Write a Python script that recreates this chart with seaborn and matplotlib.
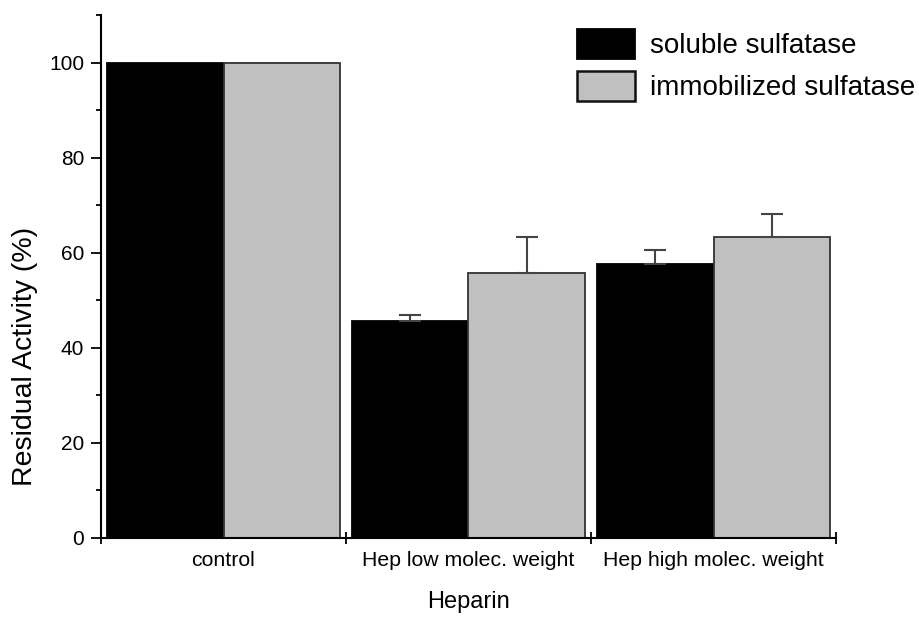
import numpy as np
import pandas as pd
import matplotlib
matplotlib.use("Agg")
import matplotlib.pyplot as plt
import seaborn as sns
from matplotlib.ticker import MultipleLocator, FixedLocator

categories = ["control", "Hep low molec. weight", "Hep high molec. weight"]
series = ["soluble sulfatase", "immobilized sulfatase"]
soluble = [100, 45.5, 57.6]
immobilized = [100, 55.7, 63.3]
soluble_err = [0, 1.3, 2.9]
immobilized_err = [0, 7.6, 4.8]
y_ticks = [0, 20, 40, 60, 80, 100]

sns.set_theme(style="ticks")
plt.rcParams["font.family"] = ["Liberation Sans", "DejaVu Sans"]
plt.rcParams["text.color"] = "black"
plt.rcParams["axes.labelcolor"] = "black"

df = pd.DataFrame({
    "Heparin": categories * 2,
    "value": soluble + immobilized,
    "series": [series[0]] * 3 + [series[1]] * 3,
})

fig = plt.figure(figsize=(9.19, 6.26), dpi=100)
ax = fig.add_axes([101 / 919, 1 - 537.5 / 626, (836 - 101) / 919, (537.5 - 15) / 626])

sns.barplot(data=df, x="Heparin", y="value", hue="series", order=categories,
            hue_order=series, palette=["#000000", "#c0c0c0"], width=0.95,
            errorbar=None, saturation=1, ax=ax, linewidth=1.3, legend=True)

edge_cols = ["#000000", "#333333"]
errs = [soluble_err, immobilized_err]
for cont, ec, err in zip(ax.containers, edge_cols, errs):
    xs, ys, es = [], [], []
    for p, e in zip(cont.patches, err):
        p.set_edgecolor(ec)
        if e > 0:
            xs.append(p.get_x() + p.get_width() / 2)
            ys.append(p.get_height())
            es.append(e)
    ax.errorbar(xs, ys, yerr=[np.zeros(len(es)), es], fmt="none",
                ecolor="#444444", elinewidth=1.5, capsize=8, capthick=1.5, zorder=3)

ax.set_xlim(-0.5, 2.5)
ax.set_ylim(0, 110)

for s in ["top", "right"]:
    ax.spines[s].set_visible(False)
for s in ["left", "bottom"]:
    ax.spines[s].set_linewidth(1.5)
    ax.spines[s].set_color("black")

ax.yaxis.set_major_locator(FixedLocator(y_ticks))
ax.yaxis.set_minor_locator(MultipleLocator(10))
ax.tick_params(axis="y", which="major", length=7.2, width=1.3, labelsize=15,
               pad=5, color="black", labelcolor="black")
ax.tick_params(axis="y", which="minor", length=3.6, width=1.3, color="black", left=True)

ax.set_xticks(range(len(categories)))
ax.set_xticklabels(categories)
ax.xaxis.set_minor_locator(FixedLocator([-0.5, 0.5, 1.5, 2.5]))
ax.tick_params(axis="x", which="major", length=0, labelsize=15.3, pad=10, labelcolor="black")
ax.tick_params(axis="x", which="minor", length=9, width=1.3, direction="inout",
               color="black", bottom=True)

ax.set_ylabel("Residual Activity (%)", fontsize=20.5, color="black")
ax.yaxis.set_label_coords(-0.086, (537.5 - 356) / 522.5)
ax.set_xlabel("Heparin", fontsize=17, color="black")
ax.xaxis.set_label_coords(0.5, -0.102)

ax.legend_.remove()
handles = [plt.Rectangle((0, 0), 1, 1, facecolor="#000000", edgecolor="#000000", linewidth=1.3),
           plt.Rectangle((0, 0), 1, 1, facecolor="#c0c0c0", edgecolor="#111111", linewidth=1.8)]
fig.legend(handles, series, loc="upper left", bbox_to_anchor=(577 / 919, 1 - 29 / 626),
           frameon=False, fontsize=20, handlelength=2.09, handleheight=1.26,
           labelspacing=0.43, handletextpad=0.54, borderpad=0, borderaxespad=0,
           labelcolor="black")

ax.set_facecolor("white")
fig.patch.set_facecolor("white")
fig.savefig("out.png", dpi=100)
